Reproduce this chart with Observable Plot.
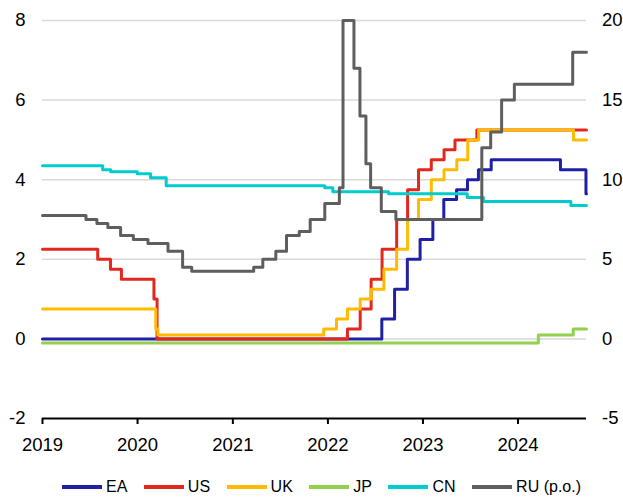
<!DOCTYPE html>
<html>
<head>
<meta charset="utf-8">
<script src="https://cdn.jsdelivr.net/npm/d3@7"></script>
<script src="https://cdn.jsdelivr.net/npm/@observablehq/plot@0.6"></script>
<style>
  html, body { margin: 0; padding: 0; background: #fff; }
  #wrap { position: relative; width: 623px; height: 500px; overflow: hidden; font-family: "Liberation Sans", Arial, sans-serif; }
  #legend { position: absolute; left: 62px; top: 477px; height: 20px; display: flex; align-items: center; font-size: 16px; color: #000; white-space: nowrap; }
  .item { display: flex; align-items: center; margin-right: 16.5px; }
  .item svg { margin-right: 4px; }
</style>
</head>
<body>
<div id="wrap"><div id="chart"></div><div id="legend"></div></div>
<script>
// Series names and colours
const names = ["EA", "US", "UK", "JP", "CN", "RU (p.o.)"];
const colors = ["#2020a6", "#e2271f", "#ffbb00", "#92d050", "#00cccc", "#5e5e5e"];

// Policy rates (step dates and levels)
const eaDates = ["2019-01-01","2022-07-27","2022-09-14","2022-11-02","2022-12-21","2023-02-08","2023-03-22","2023-05-10","2023-06-21","2023-08-02","2023-09-20","2024-06-12","2024-09-18","2024-09-20"];
const eaValues = [0, 0.5, 1.25, 2, 2.5, 3, 3.5, 3.75, 4, 4.25, 4.5, 4.25, 3.65, 3.65];

const usDates = ["2019-01-01","2019-08-01","2019-09-19","2019-10-31","2020-03-04","2020-03-16","2022-03-17","2022-05-05","2022-06-16","2022-07-28","2022-09-22","2022-11-03","2022-12-15","2023-02-02","2023-03-23","2023-05-04","2023-07-27","2024-09-20"];
const usValues = [2.25, 2, 1.75, 1.5, 1, 0, 0.25, 0.75, 1.5, 2.25, 3, 3.75, 4.25, 4.5, 4.75, 5, 5.25, 5.25];

const ukDates = ["2019-01-01","2020-03-11","2020-03-19","2021-12-16","2022-02-03","2022-03-17","2022-05-05","2022-06-16","2022-08-04","2022-09-22","2022-11-03","2022-12-15","2023-02-02","2023-03-23","2023-05-11","2023-06-22","2023-08-03","2024-08-01","2024-09-20"];
const ukValues = [0.75, 0.25, 0.1, 0.25, 0.5, 0.75, 1, 1.25, 1.75, 2.25, 3, 3.5, 4, 4.25, 4.5, 5, 5.25, 5, 5];

const jpDates = ["2019-01-01","2024-03-19","2024-07-31","2024-09-20"];
const jpValues = [-0.1, 0.1, 0.25, 0.25];

const cnDates = ["2019-01-01","2019-08-20","2019-09-20","2019-12-31","2020-02-20","2020-04-20","2021-12-20","2022-01-20","2022-08-22","2023-06-20","2023-08-21","2024-07-22","2024-09-20"];
const cnValues = [4.35, 4.25, 4.2, 4.15, 4.05, 3.85, 3.8, 3.7, 3.65, 3.55, 3.45, 3.35, 3.35];

// Russia, right axis (p.o.)
const ruDates = ["2019-01-01","2019-06-17","2019-07-29","2019-09-09","2019-10-28","2019-12-16","2020-02-10","2020-04-27","2020-06-22","2020-07-27","2021-03-22","2021-04-26","2021-06-15","2021-07-26","2021-09-13","2021-10-25","2021-12-20","2022-02-14","2022-02-28","2022-04-11","2022-05-04","2022-05-27","2022-06-14","2022-07-25","2022-09-19","2023-08-15","2023-09-18","2023-10-30","2023-12-18","2024-07-29","2024-09-20"];
const ruValues = [7.75, 7.5, 7.25, 7, 6.5, 6.25, 6, 5.5, 4.5, 4.25, 4.5, 5, 5.5, 6.5, 6.75, 7.5, 8.5, 9.5, 20, 17, 14, 11, 9.5, 8, 7.5, 12, 13, 15, 16, 18, 18];

// Axes
const leftTicks = [-2, 0, 2, 4, 6, 8];
const rightTicks = [-5, 0, 5, 10, 15, 20];
const yearTicks = ["2019","2020","2021","2022","2023","2024"];
const xStart = "2019-01-01", xEnd = "2024-09-20";

// Right axis maps onto left axis: left = right * 0.4
const rightToLeft = 0.4;

const series = [
  [names[0], eaDates, eaValues, 1],
  [names[1], usDates, usValues, 1],
  [names[2], ukDates, ukValues, 1],
  [names[3], jpDates, jpValues, 1],
  [names[4], cnDates, cnValues, 1],
  [names[5], ruDates, ruValues, rightToLeft]
];
const rows = series.flatMap(([name, ds, vs, k]) =>
  ds.map((d, i) => ({country: name, date: new Date(d + "T00:00:00Z"), value: vs[i], y: vs[i] * k})));

const chart = Plot.plot({
  width: 623,
  height: 465,
  marginTop: 20,
  marginBottom: 47,
  marginLeft: 42,
  marginRight: 37,
  style: {fontFamily: "'Liberation Sans', Arial, sans-serif", fontSize: "18.5px", color: "#000", background: "#fff", overflow: "visible"},
  x: {type: "utc", domain: [new Date(xStart + "T00:00:00Z"), new Date(xEnd + "T00:00:00Z")]},
  y: {domain: [leftTicks[0], leftTicks[leftTicks.length - 1]]},
  color: {domain: names, range: colors},
  marks: [
    Plot.ruleY(leftTicks.slice(1), {stroke: "#d9d9d9", strokeWidth: 1.5}),
    Plot.line(rows, {x: "date", y: "y", z: "country", stroke: "country", strokeWidth: 3, curve: "step-after"}),
    Plot.ruleY([leftTicks[0]], {stroke: "#000", strokeWidth: 2}),
    Plot.axisX({ticks: yearTicks.map(t => new Date(t + "-01-01T00:00:00Z")), tickFormat: d3.utcFormat("%Y"), tickSize: 6, tickPadding: 13, strokeWidth: 2, label: null}),
    Plot.axisY({anchor: "left", ticks: leftTicks, tickFormat: d => String(d), tickSize: 0, tickPadding: 17, label: null}),
    Plot.axisY({anchor: "right", ticks: rightTicks.map(v => v * rightToLeft), tickFormat: d => String(Math.round(d / rightToLeft)), tickSize: 0, tickPadding: 15.5, label: null})
  ]
});
document.getElementById("chart").appendChild(chart);

const legend = document.getElementById("legend");
names.forEach((n, i) => {
  const item = document.createElement("div");
  item.className = "item";
  item.innerHTML = `<svg width="40" height="6"><line x1="0" x2="40" y1="3" y2="3" stroke="${colors[i]}" stroke-width="4"/></svg><span>${n}</span>`;
  legend.appendChild(item);
});
</script>
</body>
</html>
